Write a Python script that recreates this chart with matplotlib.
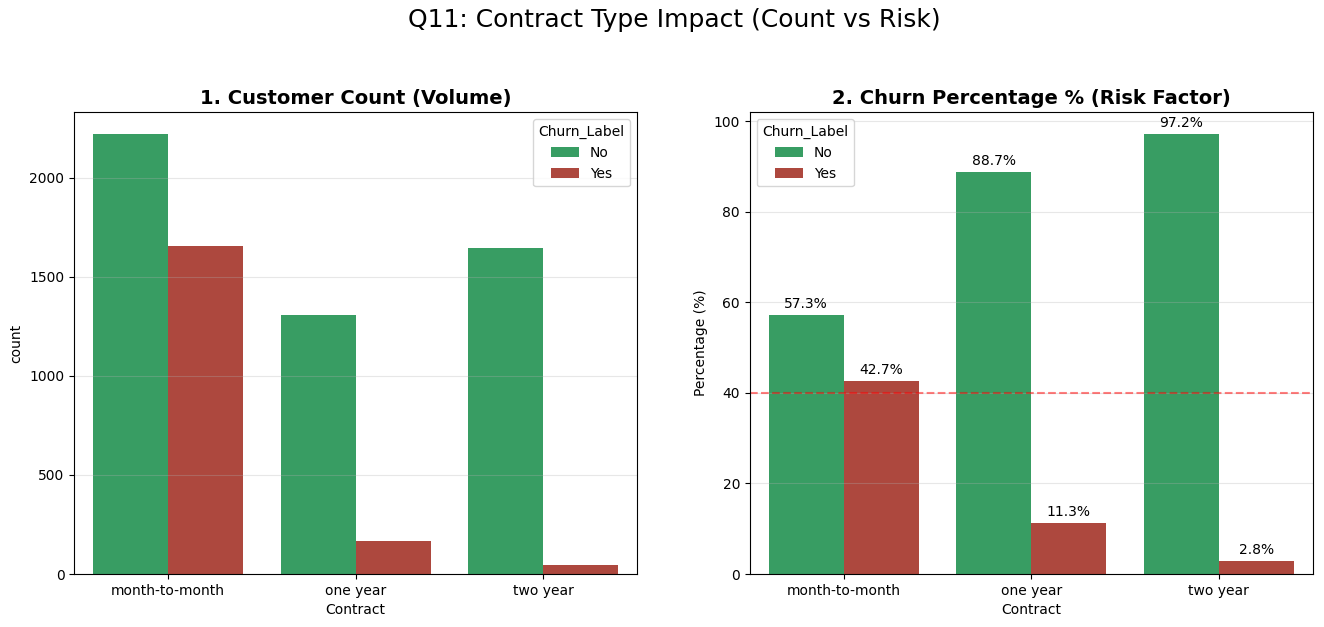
import numpy as np
import pandas as pd
import matplotlib
matplotlib.use("Agg")
import matplotlib.pyplot as plt
import seaborn as sns

contracts = ["month-to-month", "one year", "two year"]
count_no = [2220, 1307, 1647]
count_yes = [1655, 166, 48]
palette = {"No": "#27ae60", "Yes": "#c0392b"}

# long table for seaborn
df = pd.DataFrame({
    "Contract": contracts * 2,
    "Churn_Label": ["No"] * 3 + ["Yes"] * 3,
    "count": count_no + count_yes,
})
totals = df.groupby("Contract")["count"].transform("sum")
df["Percentage"] = df["count"] / totals * 100

fig, axes = plt.subplots(1, 2, figsize=(13.24, 6.27), dpi=100)
fig.suptitle("Q11: Contract Type Impact (Count vs Risk)", fontsize=18, x=0.509, y=0.988)

# 1. counts
ax = axes[0]
sns.barplot(data=df, x="Contract", y="count", hue="Churn_Label",
            order=contracts, hue_order=["No", "Yes"], palette=palette, ax=ax)
ax.set_title("1. Customer Count (Volume)", fontsize=14, fontweight="bold")
ax.grid(axis="y", alpha=0.3)
ax.legend(title="Churn_Label", loc="upper right")

# 2. percentages
ax = axes[1]
sns.barplot(data=df, x="Contract", y="Percentage", hue="Churn_Label",
            order=contracts, hue_order=["No", "Yes"], palette=palette, ax=ax)
ax.set_title("2. Churn Percentage % (Risk Factor)", fontsize=14, fontweight="bold")
ax.set_ylabel("Percentage (%)")
ax.grid(axis="y", alpha=0.3)
for c in ax.containers:
    ax.bar_label(c, fmt="%.1f%%", padding=3)
ax.axhline(40, color="red", linestyle="--", alpha=0.5)
ax.legend(title="Churn_Label", loc="upper left")

plt.subplots_adjust(left=0.056, right=0.9915, bottom=0.0845, top=0.821, wspace=0.2)
plt.savefig("out.png")
